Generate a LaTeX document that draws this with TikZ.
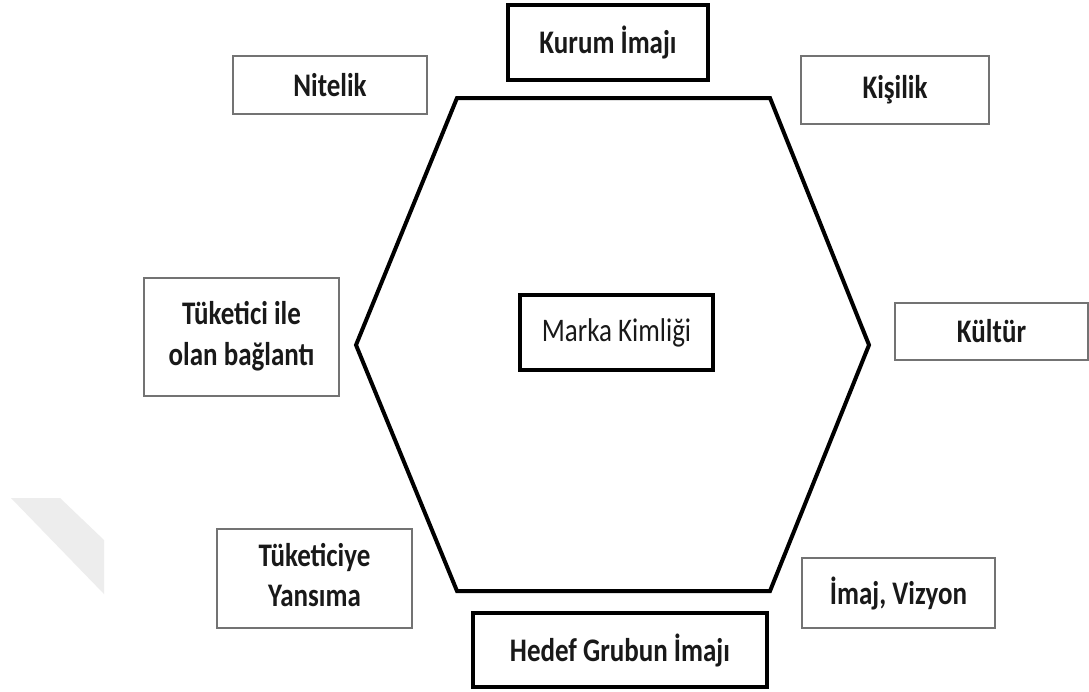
\documentclass[tikz,border=0pt]{standalone}
\usepackage{fontspec}
\usepackage{graphicx}
\setmainfont{Carlito}
\newcommand{\vs}[1]{\scalebox{1}[1.22]{#1}}
\tikzset{
  thinbox/.style={draw=black!55, line width=1.6pt, fill=white, inner sep=0pt, font=\bfseries\fontsize{27}{33}\selectfont, text=black!90},
  thickbox/.style={draw=black, line width=4.5pt, fill=white, inner sep=0pt, font=\bfseries\fontsize{27}{33}\selectfont, text=black!90},
  hexline/.style={draw=black, line width=4pt, line join=miter}
}
\begin{document}
\begin{tikzpicture}[x=1pt,y=-1pt]
\useasboundingbox (0,0) rectangle (1089,691);
\fill[white] (0,0) rectangle (1089,691);
% faint watermark
\fill[black!7] (11,498) -- (60,498) -- (104,540) -- (104,594) -- cycle;
% hexagon
\coordinate (h1) at (457,98);
\coordinate (h2) at (770,98);
\coordinate (h3) at (869,345);
\coordinate (h4) at (770,591);
\coordinate (h5) at (457,591);
\coordinate (h6) at (356,345);
\draw[hexline] (h1) -- (h2) -- (h3) -- (h4) -- (h5) -- (h6) -- cycle;
% boxes
\node[thickbox, minimum width=200, minimum height=75] (kurum) at (608,42.5) {\vs{Kurum İmajı}};
\node[thinbox, minimum width=194, minimum height=58] (nitelik) at (330,85) {\vs{Nitelik}};
\node[thinbox, minimum width=188, minimum height=68] (kisilik) at (895,90) {\vs{Kişilik}};
\node[thinbox, minimum width=195, minimum height=118] (tuketici) at (241.5,337)
  {\vs{\begin{tabular}{@{}c@{}}\fontsize{27}{39.5}\selectfont Tüketici ile\\ olan bağlantı\end{tabular}}};
\node[thickbox, minimum width=193, minimum height=75, font=\fontsize{27}{33}\selectfont] (marka) at (616.5,332.5) {\vs{Marka Kimliği}};
\node[thinbox, minimum width=193, minimum height=57] (kultur) at (991.5,331.5) {\vs{Kültür}};
\node[thinbox, minimum width=195, minimum height=99] (yansima) at (314.5,578.5)
  {\vs{\begin{tabular}{@{}c@{}}\fontsize{27}{33}\selectfont Tüketiciye\\ Yansıma\end{tabular}}};
\node[thickbox, minimum width=294, minimum height=74] (hedef) at (620,650) {\vs{Hedef Grubun İmajı}};
\node[thinbox, minimum width=193, minimum height=70] (vizyon) at (898.5,593) {\vs{İmaj, Vizyon}};
\end{tikzpicture}
\end{document}
